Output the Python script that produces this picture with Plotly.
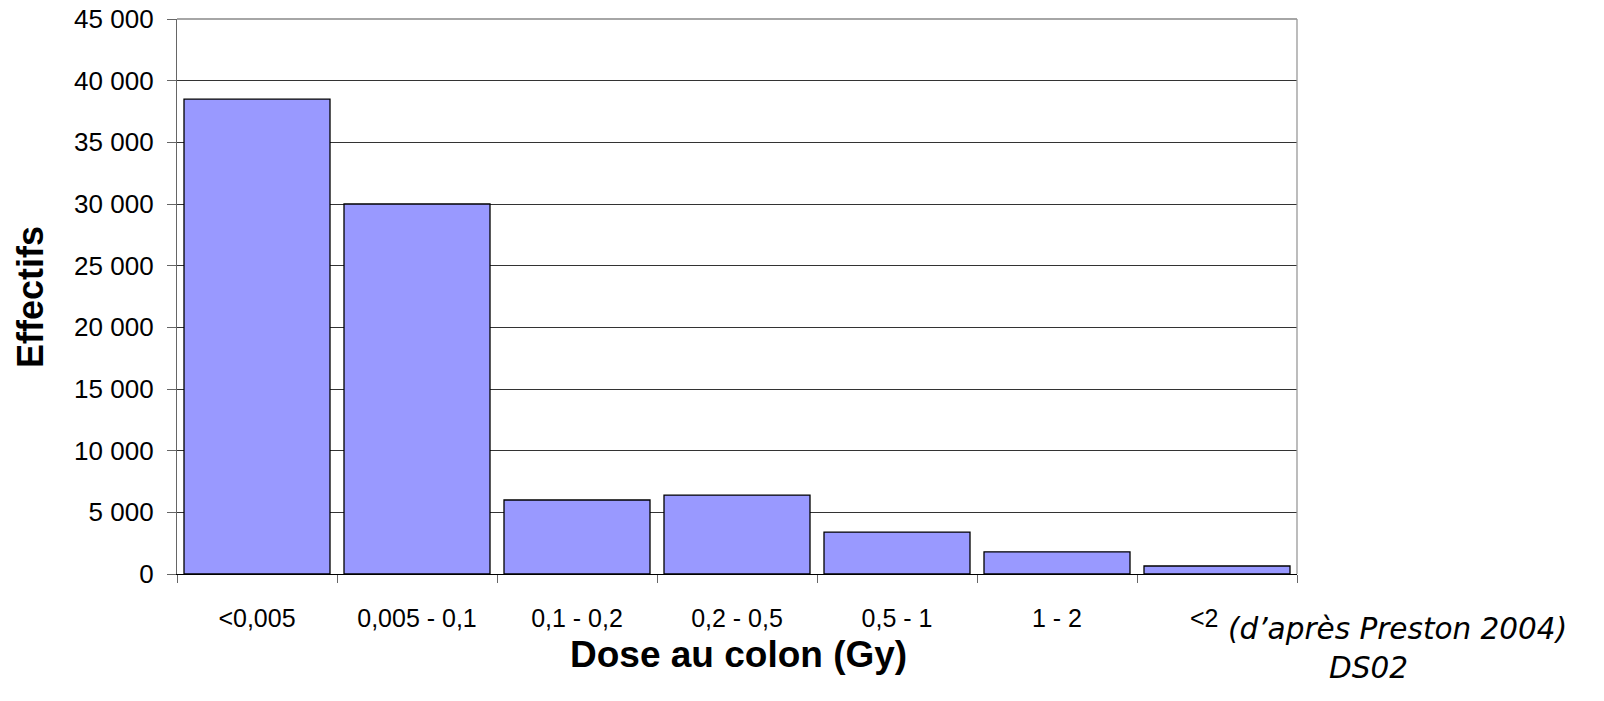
import plotly.graph_objects as go

categories = ["<0,005", "0,005 - 0,1", "0,1 - 0,2", "0,2 - 0,5", "0,5 - 1", "1 - 2", "<2"]
effectifs = [38500, 30000, 6000, 6400, 3400, 1800, 650]
y_ticks = [0, 5000, 10000, 15000, 20000, 25000, 30000, 35000, 40000, 45000]

# category slots 0..n-1; the last label sits slightly left of its slot in the original
slots = list(range(len(categories)))
label_pos = slots[:-1] + [slots[-1] - 0.08]

L, R, T, B = 177, 1297, 19, 574
W, H = 1604, 701
pw, ph = R - L, B - T

def px(x):
    return (x - L) / pw

def py(y):
    return (B - y) / ph

fig = go.Figure(go.Bar(
    x=slots, y=effectifs,
    marker=dict(color="#9999FF", line=dict(color="#000000", width=1.3)),
))

fig.update_layout(
    width=W, height=H,
    margin=dict(l=L, r=W - R, t=T, b=H - B, autoexpand=False),
    plot_bgcolor="white", paper_bgcolor="white",
    bargap=0.0875, showlegend=False,
    separators=", ",
    font=dict(family="Liberation Sans, Arial, sans-serif", color="black"),
)
fig.update_yaxes(
    range=[0, 45000], tickvals=y_ticks, separatethousands=True, tickformat=",d",
    showgrid=True, gridcolor="#333333", gridwidth=1,
    showline=True, linecolor="#666666", linewidth=1.3,
    ticks="outside", ticklen=9, tickcolor="#666666", tickwidth=1.3,
    tickfont=dict(size=26), ticklabelstandoff=8, zeroline=False, automargin=False,
    ticklabeloverflow="allow",
)
fig.update_xaxes(
    range=[-0.5, len(categories) - 0.5],
    tickmode="array", tickvals=label_pos, ticktext=categories, ticks="",
    minor=dict(tickmode="linear", tick0=-0.5, dtick=1, ticks="outside", ticklen=8,
               tickcolor="#666666", tickwidth=1.3, showgrid=False),
    showline=True, linecolor="#000000", linewidth=1.3,
    tickfont=dict(size=25), ticklabelstandoff=22, showgrid=False, zeroline=False,
    automargin=False, ticklabeloverflow="allow",
)
# frame top and right
fig.add_shape(type="line", xref="paper", yref="paper", x0=0, x1=1, y0=1, y1=1,
              line=dict(color="#888888", width=1.3))
fig.add_shape(type="line", xref="paper", yref="paper", x0=1, x1=1, y0=0, y1=1,
              line=dict(color="#999999", width=1.3))

fig.add_annotation(text="<b>Dose au colon (Gy)</b>", xref="paper", yref="paper",
                   x=px(738), y=py(654), xanchor="center", yanchor="middle",
                   showarrow=False, font=dict(size=37))
fig.add_annotation(text="<b>Effectifs</b>", xref="paper", yref="paper", textangle=-90,
                   x=px(30), y=py(297), xanchor="center", yanchor="middle",
                   showarrow=False, font=dict(size=36))
fig.add_annotation(text="<i>(d’après Preston 2004)</i>", xref="paper", yref="paper",
                   x=px(1397), y=py(629), xanchor="center", yanchor="middle",
                   showarrow=False, font=dict(size=29.5, family="DejaVu Sans, sans-serif"))
fig.add_annotation(text="<i>DS02</i>", xref="paper", yref="paper",
                   x=px(1368), y=py(668), xanchor="center", yanchor="middle",
                   showarrow=False, font=dict(size=29.5, family="DejaVu Sans, sans-serif"))

fig.write_html("out.html", config={"displayModeBar": False},
               post_script="document.body.style.margin='0';document.body.style.overflow='hidden';")
